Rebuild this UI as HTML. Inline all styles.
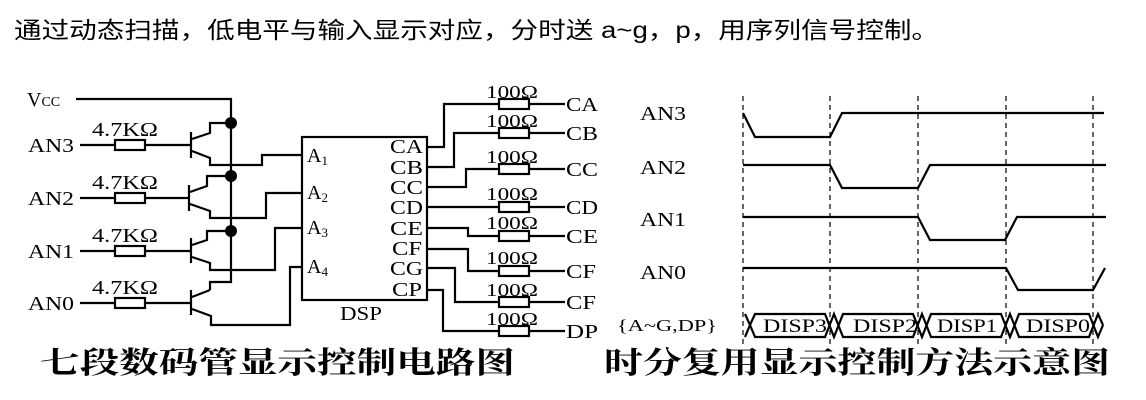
<!DOCTYPE html>
<html><head><meta charset="utf-8"><style>
html,body{margin:0;padding:0;background:#fff;}
svg{display:block;}
.s{font-family:"Liberation Serif","Noto Serif CJK SC",serif;font-size:20px;fill:#000;}
</style></head><body>
<svg width="1146" height="400" viewBox="0 0 1146 400" xmlns="http://www.w3.org/2000/svg">
<text x="14" y="38" textLength="925" lengthAdjust="spacingAndGlyphs" style="font-family:'Liberation Sans','Noto Sans CJK SC',sans-serif;font-size:23px;fill:#000">通过动态扫描，低电平与输入显示对应，分时送 a~g，p，用序列信号控制。</text>

<g stroke="#000" stroke-width="2.2" fill="none">
<polyline points="76,99 231,99 231,282 210,282 210,290"/>
<line x1="80" y1="145" x2="115" y2="145"/><rect x="115" y="140" width="30" height="10"/><line x1="145" y1="145" x2="190" y2="145"/>
<line x1="191" y1="132" x2="191" y2="158"/>
<polyline points="192,139 210,133 210,123 231,123"/>
<polyline points="192,151 210,158 210,165 262,165 262,155 302,155"/>
<line x1="80" y1="198" x2="115" y2="198"/><rect x="115" y="193" width="30" height="10"/><line x1="145" y1="198" x2="188" y2="198"/>
<line x1="189" y1="185" x2="189" y2="211"/>
<polyline points="190,192 207,186 207,176 231,176"/>
<polyline points="190,204 210,211 210,218 266,218 266,193 302,193"/>
<line x1="80" y1="251" x2="115" y2="251"/><rect x="115" y="246" width="30" height="10"/><line x1="145" y1="251" x2="191" y2="251"/>
<line x1="191" y1="238" x2="191" y2="263"/>
<polyline points="192,245 207,240 207,231 231,231"/>
<polyline points="192,257 210,263 210,270 275,270 275,228 302,228"/>
<line x1="80" y1="303" x2="115" y2="303"/><rect x="115" y="298" width="30" height="10"/><line x1="145" y1="303" x2="191" y2="303"/>
<line x1="191" y1="290" x2="191" y2="315"/>
<polyline points="192,297 210,290"/>
<polyline points="192,309 211,316 211,325 290,325 290,267 302,267"/>
<rect x="302" y="137" width="125" height="163"/>
<polyline points="427,147 444,147 444,104 499,104"/><line x1="529" y1="104" x2="565" y2="104"/>
<polyline points="427,167 454,167 454,133 499,133"/><line x1="529" y1="133" x2="565" y2="133"/>
<polyline points="427,187 466,187 466,169 499,169"/><line x1="529" y1="169" x2="565" y2="169"/>
<polyline points="427,207 499,207"/><line x1="529" y1="207" x2="565" y2="207"/>
<polyline points="427,228 468,228 468,236 499,236"/><line x1="529" y1="236" x2="565" y2="236"/>
<polyline points="427,249 468,249 468,271 499,271"/><line x1="529" y1="271" x2="565" y2="271"/>
<polyline points="427,268 455,268 455,302 499,302"/><line x1="529" y1="302" x2="565" y2="302"/>
<polyline points="427,290 443,290 443,331 499,331"/><line x1="529" y1="331" x2="565" y2="331"/>
<rect x="499" y="99" width="30" height="10"/><rect x="499" y="128" width="30" height="10"/><rect x="499" y="164" width="30" height="10"/><rect x="499" y="202" width="30" height="10"/><rect x="499" y="231" width="30" height="10"/><rect x="499" y="266" width="30" height="10"/><rect x="499" y="297" width="30" height="10"/><rect x="499" y="326" width="30" height="10"/>
</g>
<g fill="#000"><circle cx="231" cy="123" r="6"/><circle cx="231" cy="176" r="6"/><circle cx="231" cy="231" r="6"/></g>

<g class="s" lengthAdjust="spacingAndGlyphs">
<text x="27" y="106">V<tspan font-size="14">CC</tspan></text>
<text x="28" y="152" textLength="46" lengthAdjust="spacingAndGlyphs">AN3</text><text x="28" y="205" textLength="46" lengthAdjust="spacingAndGlyphs">AN2</text><text x="28" y="258" textLength="46" lengthAdjust="spacingAndGlyphs">AN1</text><text x="28" y="310" textLength="46" lengthAdjust="spacingAndGlyphs">AN0</text>
<text x="92" y="136" textLength="66" lengthAdjust="spacingAndGlyphs">4.7KΩ</text><text x="92" y="189" textLength="66" lengthAdjust="spacingAndGlyphs">4.7KΩ</text><text x="92" y="242" textLength="66" lengthAdjust="spacingAndGlyphs">4.7KΩ</text><text x="92" y="294" textLength="66" lengthAdjust="spacingAndGlyphs">4.7KΩ</text>
<text x="307" y="162">A<tspan font-size="13" dy="3">1</tspan></text>
<text x="307" y="199">A<tspan font-size="13" dy="3">2</tspan></text>
<text x="307" y="234">A<tspan font-size="13" dy="3">3</tspan></text>
<text x="307" y="273">A<tspan font-size="13" dy="3">4</tspan></text>
<text x="390" y="153" textLength="33" lengthAdjust="spacingAndGlyphs">CA</text><text x="390" y="174" textLength="33" lengthAdjust="spacingAndGlyphs">CB</text><text x="390" y="194" textLength="33" lengthAdjust="spacingAndGlyphs">CC</text><text x="390" y="214" textLength="33" lengthAdjust="spacingAndGlyphs">CD</text><text x="390" y="235" textLength="33" lengthAdjust="spacingAndGlyphs">CE</text><text x="392" y="255" textLength="30" lengthAdjust="spacingAndGlyphs">CF</text><text x="390" y="275" textLength="33" lengthAdjust="spacingAndGlyphs">CG</text><text x="392" y="296" textLength="30" lengthAdjust="spacingAndGlyphs">CP</text>
<text x="340" y="320" textLength="42" lengthAdjust="spacingAndGlyphs">DSP</text>
<g font-size="18"><text x="486" y="98" textLength="52" lengthAdjust="spacingAndGlyphs">100Ω</text><text x="486" y="127" textLength="52" lengthAdjust="spacingAndGlyphs">100Ω</text><text x="486" y="163" textLength="52" lengthAdjust="spacingAndGlyphs">100Ω</text><text x="486" y="200" textLength="52" lengthAdjust="spacingAndGlyphs">100Ω</text><text x="486" y="229" textLength="52" lengthAdjust="spacingAndGlyphs">100Ω</text><text x="486" y="264" textLength="52" lengthAdjust="spacingAndGlyphs">100Ω</text><text x="486" y="296" textLength="52" lengthAdjust="spacingAndGlyphs">100Ω</text><text x="486" y="325" textLength="52" lengthAdjust="spacingAndGlyphs">100Ω</text></g>
<text x="566" y="111" textLength="32" lengthAdjust="spacingAndGlyphs">CA</text><text x="566" y="140" textLength="32" lengthAdjust="spacingAndGlyphs">CB</text><text x="566" y="176" textLength="32" lengthAdjust="spacingAndGlyphs">CC</text><text x="566" y="214" textLength="32" lengthAdjust="spacingAndGlyphs">CD</text><text x="566" y="243" textLength="32" lengthAdjust="spacingAndGlyphs">CE</text><text x="566" y="278" textLength="30" lengthAdjust="spacingAndGlyphs">CF</text><text x="566" y="309" textLength="30" lengthAdjust="spacingAndGlyphs">CF</text><text x="566" y="338" textLength="32" lengthAdjust="spacingAndGlyphs">DP</text>
<text x="640" y="120" textLength="46" lengthAdjust="spacingAndGlyphs">AN3</text><text x="640" y="174" textLength="46" lengthAdjust="spacingAndGlyphs">AN2</text><text x="640" y="226" textLength="46" lengthAdjust="spacingAndGlyphs">AN1</text><text x="640" y="279" textLength="46" lengthAdjust="spacingAndGlyphs">AN0</text>
<text x="617" y="331" font-size="17" textLength="100" lengthAdjust="spacingAndGlyphs">{A~G,DP}</text>
<g font-size="19"><text x="763" y="332" textLength="64" lengthAdjust="spacingAndGlyphs">DISP3</text><text x="853" y="332" textLength="64" lengthAdjust="spacingAndGlyphs">DISP2</text><text x="937" y="332" textLength="60" lengthAdjust="spacingAndGlyphs">DISP1</text><text x="1026" y="332" textLength="64" lengthAdjust="spacingAndGlyphs">DISP0</text></g>
</g>

<g stroke="#000" stroke-width="1.2" stroke-dasharray="5,4">
<line x1="743" y1="96" x2="743" y2="345"/><line x1="830" y1="96" x2="830" y2="345"/><line x1="918" y1="96" x2="918" y2="345"/><line x1="1006" y1="96" x2="1006" y2="345"/><line x1="1093" y1="96" x2="1093" y2="345"/>
</g>
<g stroke="#000" stroke-width="2.2" fill="none">
<polyline points="743,113 755,137 830,137 842,113 1104,113"/>
<polyline points="743,165 830,165 842,188 918,188 930,165 1106,165"/>
<polyline points="743,217 918,217 930,240 1005,240 1017,217 1106,217"/>
<polyline points="743,268 1006,268 1018,290 1093,290 1105,268"/>
<polyline points="745,314 750,325 745,337"/>
<path d="M750,325 L755,314 L825,314 L834,337 L843,314 L913,314 L922,337 L931,314 L1001,314 L1010,337 L1019,314 L1089,314 L1098,337 L1103,325"/>
<path d="M750,325 L755,337 L825,337 L834,314 L843,337 L913,337 L922,314 L931,337 L1001,337 L1010,314 L1019,337 L1089,337 L1098,314 L1103,325"/>
</g>

<text x="40" y="373" textLength="475" lengthAdjust="spacingAndGlyphs" style="font-family:'Noto Serif CJK SC',serif;font-size:30px;font-weight:bold;fill:#000">七段数码管显示控制电路图</text>
<text x="604" y="373" textLength="506" lengthAdjust="spacingAndGlyphs" style="font-family:'Noto Serif CJK SC',serif;font-size:30px;font-weight:bold;fill:#000">时分复用显示控制方法示意图</text>
</svg>
</body></html>
